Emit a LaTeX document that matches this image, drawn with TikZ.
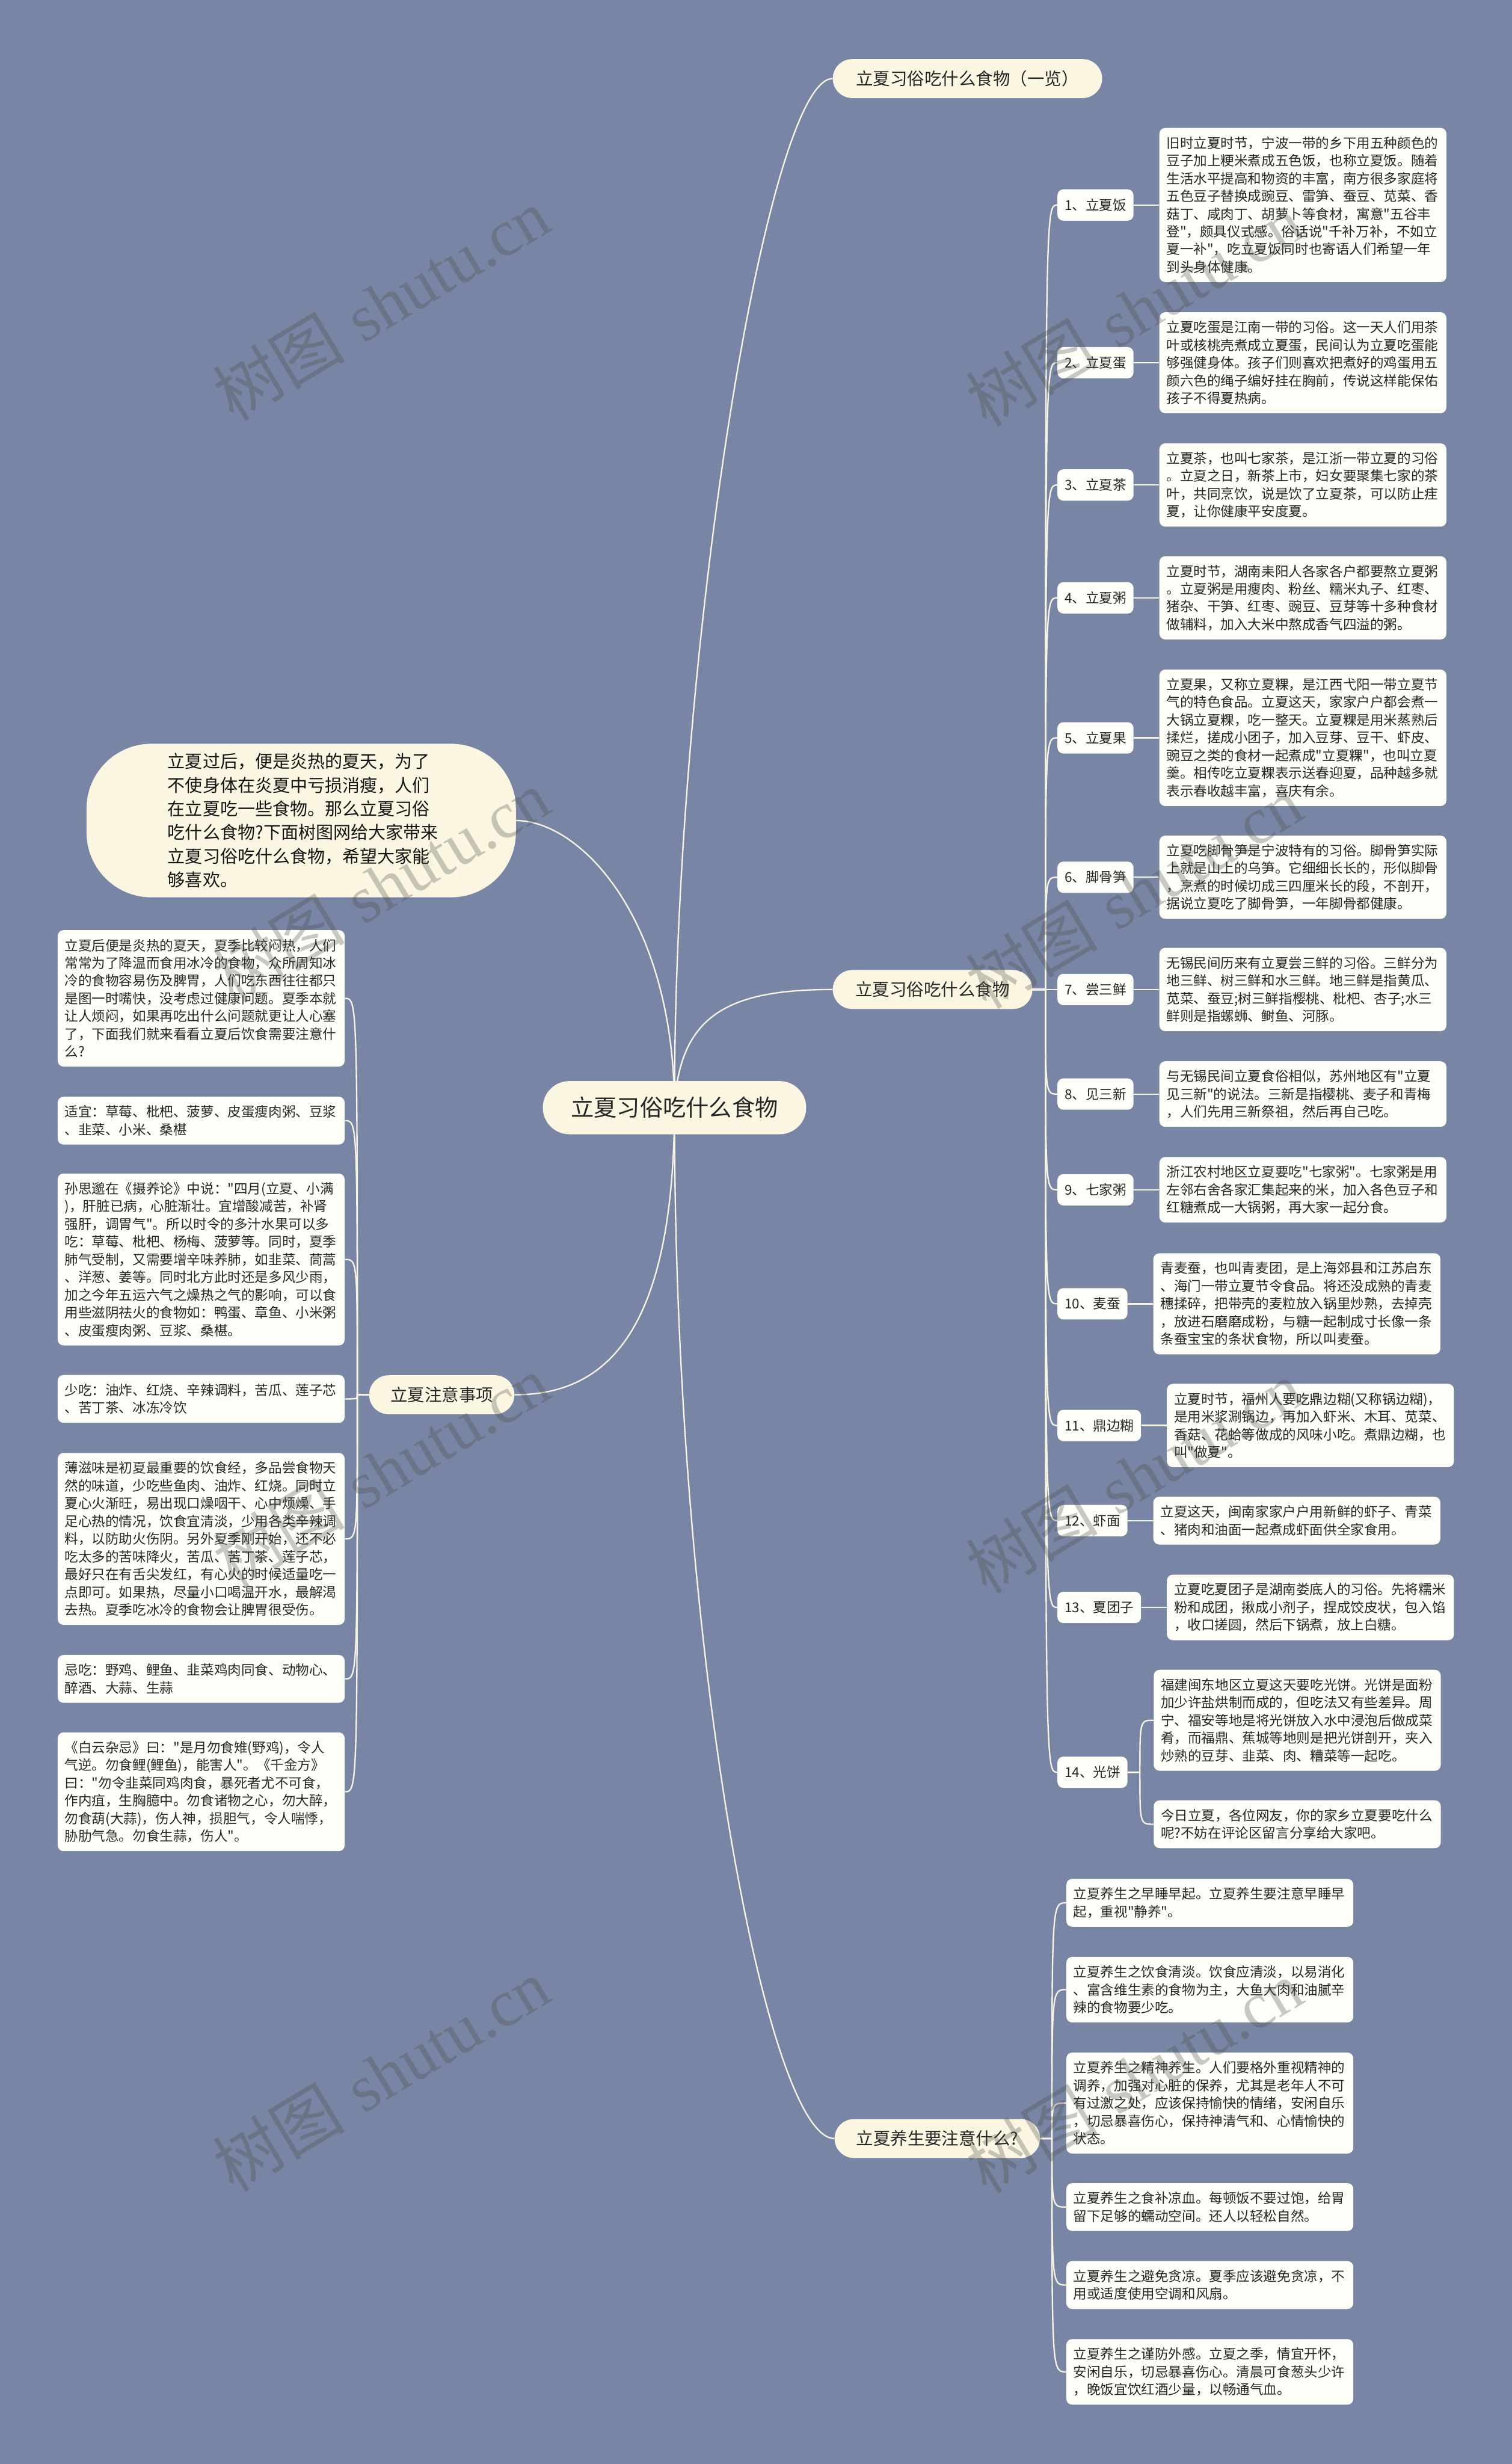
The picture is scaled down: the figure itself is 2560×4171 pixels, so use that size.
\documentclass[tikz,border=0pt]{standalone}
\usepackage{fontspec}
\newfontfamily\cjk{Noto Sans CJK SC}
\newfontfamily\wmserif{Liberation Serif}
\usetikzlibrary{calc}
\definecolor{bgc}{RGB}{120,133,164}
\definecolor{cream}{RGB}{250,246,226}
\definecolor{leaffill}{RGB}{254,254,248}
\definecolor{linec}{RGB}{246,243,226}
\definecolor{txt}{RGB}{38,38,38}
\definecolor{wm}{RGB}{78,78,70}
\pgfdeclarelayer{back}\pgfdeclarelayer{lines}\pgfsetlayers{back,lines,main}
\newcommand\mmleaf{\cjk\fontsize{11.5pt}{15pt}\selectfont}
\newcommand\mmbranch{\cjk\fontsize{14.5pt}{17pt}\selectfont}
\newcommand\mmroot{\cjk\fontsize{19.5pt}{23pt}\selectfont}
\newcommand\mmintro{\cjk\fontsize{14.8pt}{20pt}\selectfont}
\newcommand\mmwm{\cjk\fontsize{56pt}{60pt}\selectfont}
\begin{document}
\begin{tikzpicture}[x=0.5pt,y=-0.5pt,
  conn/.style={draw=linec, line width=1.2pt},
  leaf/.style={fill=leaffill, rounded corners=5pt, text width=231pt, align=left,
    inner xsep=6pt, inner ysep=2pt, font=\mmleaf, text=txt, anchor=west,
    minimum height={#1*15pt+10.5pt}},
  lbl/.style={fill=leaffill, rounded corners=5pt, inner xsep=6pt, inner ysep=0pt,
    minimum height=26.5pt, font=\mmleaf, text=txt, anchor=west},
  branch/.style={fill=cream, rounded corners=16.5pt, inner sep=0pt,
    minimum height=33pt, font=\mmbranch, text=txt},
  rootnode/.style={fill=cream, rounded corners=22.5pt, inner sep=0pt,
    minimum width=223pt, minimum height=45pt, font=\mmroot, text=txt},
  intro/.style={fill=cream, rounded corners=55pt, minimum width=363.5pt,
    minimum height=130pt, text width=226pt, align=left, font=\mmintro, text=black!92},
  wmk/.style={rotate=31, font=\mmwm, text=wm, text opacity=0.3, inner sep=0pt}
]
\useasboundingbox (0,0) rectangle (2560,4171);
\begin{pgfonlayer}{back}
\fill[bgc] (0,0) rectangle (2560,4171);
\end{pgfonlayer}

% root and branches
\node[rootnode] (root) at (1142,1875) {立夏习俗吃什么食物};
\node[branch, minimum width=228pt] (A) at (1638,133) {立夏习俗吃什么食物（一览）};
\node[branch, minimum width=169pt] (B) at (1579,1675) {立夏习俗吃什么食物};
\node[branch, minimum width=174pt] (C) at (1587,3620) {立夏养生要注意什么?};
\node[branch, minimum width=123pt] (D) at (748,2361) {立夏注意事项};
\node[intro] (intro) at (510,1389) {立夏过后，便是炎热的夏天，为了\\不使身体在炎夏中亏损消瘦，人们\\在立夏吃一些食物。那么立夏习俗\\吃什么食物?下面树图网给大家带来\\立夏习俗吃什么食物，希望大家能\\够喜欢。};

% B labels
\node[lbl] (l1) at (1790,347) {1、立夏饭};
\node[lbl] (l2) at (1790,614) {2、立夏蛋};
\node[lbl] (l3) at (1790,821) {3、立夏茶};
\node[lbl] (l4) at (1790,1012) {4、立夏粥};
\node[lbl] (l5) at (1790,1249) {5、立夏果};
\node[lbl] (l6) at (1790,1485) {6、脚骨笋};
\node[lbl] (l7) at (1790,1675) {7、尝三鲜};
\node[lbl] (l8) at (1790,1852) {8、见三新};
\node[lbl] (l9) at (1790,2014) {9、七家粥};
\node[lbl] (l10) at (1790,2207) {10、麦蚕};
\node[lbl] (l11) at (1790,2413) {11、鼎边糊};
\node[lbl] (l12) at (1790,2574) {12、虾面};
\node[lbl] (l13) at (1790,2721) {13、夏团子};
\node[lbl] (l14) at (1790,3000) {14、光饼};

% B leaves
\node[leaf=8] (f1) at ($(l1.east)+(43,0)$) {旧时立夏时节，宁波一带的乡下用五种颜色的\\豆子加上粳米煮成五色饭，也称立夏饭。随着\\生活水平提高和物资的丰富，南方很多家庭将\\五色豆子替换成豌豆、雷笋、蚕豆、苋菜、香\\菇丁、咸肉丁、胡萝卜等食材，寓意"五谷丰\\登"，颇具仪式感。俗话说"千补万补，不如立\\夏一补"，吃立夏饭同时也寄语人们希望一年\\到头身体健康。};
\node[leaf=5] (f2) at ($(l2.east)+(43,0)$) {立夏吃蛋是江南一带的习俗。这一天人们用茶\\叶或核桃壳煮成立夏蛋，民间认为立夏吃蛋能\\够强健身体。孩子们则喜欢把煮好的鸡蛋用五\\颜六色的绳子编好挂在胸前，传说这样能保佑\\孩子不得夏热病。};
\node[leaf=4] (f3) at ($(l3.east)+(43,0)$) {立夏茶，也叫七家茶，是江浙一带立夏的习俗\\。立夏之日，新茶上市，妇女要聚集七家的茶\\叶，共同烹饮，说是饮了立夏茶，可以防止疰\\夏，让你健康平安度夏。};
\node[leaf=4] (f4) at ($(l4.east)+(43,0)$) {立夏时节，湖南耒阳人各家各户都要熬立夏粥\\。立夏粥是用瘦肉、粉丝、糯米丸子、红枣、\\猪杂、干笋、红枣、豌豆、豆芽等十多种食材\\做辅料，加入大米中熬成香气四溢的粥。};
\node[leaf=7] (f5) at ($(l5.east)+(43,0)$) {立夏果，又称立夏粿，是江西弋阳一带立夏节\\气的特色食品。立夏这天，家家户户都会煮一\\大锅立夏粿，吃一整天。立夏粿是用米蒸熟后\\揉烂，搓成小团子，加入豆芽、豆干、虾皮、\\豌豆之类的食材一起煮成"立夏粿"，也叫立夏\\羹。相传吃立夏粿表示送春迎夏，品种越多就\\表示春收越丰富，喜庆有余。};
\node[leaf=4] (f6) at ($(l6.east)+(43,0)$) {立夏吃脚骨笋是宁波特有的习俗。脚骨笋实际\\上就是山上的乌笋。它细细长长的，形似脚骨\\，烹煮的时候切成三四厘米长的段，不剖开，\\据说立夏吃了脚骨笋，一年脚骨都健康。};
\node[leaf=4] (f7) at ($(l7.east)+(43,0)$) {无锡民间历来有立夏尝三鲜的习俗。三鲜分为\\地三鲜、树三鲜和水三鲜。地三鲜是指黄瓜、\\苋菜、蚕豆;树三鲜指樱桃、枇杷、杏子;水三\\鲜则是指螺蛳、鲥鱼、河豚。};
\node[leaf=3] (f8) at ($(l8.east)+(43,0)$) {与无锡民间立夏食俗相似，苏州地区有"立夏\\见三新"的说法。三新是指樱桃、麦子和青梅\\，人们先用三新祭祖，然后再自己吃。};
\node[leaf=3] (f9) at ($(l9.east)+(43,0)$) {浙江农村地区立夏要吃"七家粥"。七家粥是用\\左邻右舍各家汇集起来的米，加入各色豆子和\\红糖煮成一大锅粥，再大家一起分食。};
\node[leaf=5] (f10) at ($(l10.east)+(43,0)$) {青麦蚕，也叫青麦团，是上海郊县和江苏启东\\、海门一带立夏节令食品。将还没成熟的青麦\\穗揉碎，把带壳的麦粒放入锅里炒熟，去掉壳\\，放进石磨磨成粉，与糖一起制成寸长像一条\\条蚕宝宝的条状食物，所以叫麦蚕。};
\node[leaf=4] (f11) at ($(l11.east)+(43,0)$) {立夏时节，福州人要吃鼎边糊(又称锅边糊)，\\是用米浆涮锅边，再加入虾米、木耳、苋菜、\\香菇、花蛤等做成的风味小吃。煮鼎边糊，也\\叫"做夏"。};
\node[leaf=2] (f12) at ($(l12.east)+(43,0)$) {立夏这天，闽南家家户户用新鲜的虾子、青菜\\、猪肉和油面一起煮成虾面供全家食用。};
\node[leaf=3] (f13) at ($(l13.east)+(43,0)$) {立夏吃夏团子是湖南娄底人的习俗。先将糯米\\粉和成团，揪成小剂子，捏成饺皮状，包入馅\\，收口搓圆，然后下锅煮，放上白糖。};
\node[leaf=5] (f14a) at (1953,2912) {福建闽东地区立夏这天要吃光饼。光饼是面粉\\加少许盐烘制而成的，但吃法又有些差异。周\\宁、福安等地是将光饼放入水中浸泡后做成菜\\肴，而福鼎、蕉城等地则是把光饼剖开，夹入\\炒熟的豆芽、韭菜、肉、糟菜等一起吃。};
\node[leaf=2] (f14b) at (1953,3088) {今日立夏，各位网友，你的家乡立夏要吃什么\\呢?不妨在评论区留言分享给大家吧。};

% C leaves
\node[leaf=2] (c1) at (1805,3221) {立夏养生之早睡早起。立夏养生要注意早睡早\\起，重视"静养"。};
\node[leaf=3] (c2) at (1805,3368) {立夏养生之饮食清淡。饮食应清淡，以易消化\\、富含维生素的食物为主，大鱼大肉和油腻辛\\辣的食物要少吃。};
\node[leaf=5] (c3) at (1805,3560) {立夏养生之精神养生。人们要格外重视精神的\\调养，加强对心脏的保养，尤其是老年人不可\\有过激之处，应该保持愉快的情绪，安闲自乐\\，切忌暴喜伤心，保持神清气和、心情愉快的\\状态。};
\node[leaf=2] (c4) at (1805,3736) {立夏养生之食补凉血。每顿饭不要过饱，给胃\\留下足够的蠕动空间。还人以轻松自然。};
\node[leaf=2] (c5) at (1805,3868) {立夏养生之避免贪凉。夏季应该避免贪凉，不\\用或适度使用空调和风扇。};
\node[leaf=3] (c6) at (1805,4015) {立夏养生之谨防外感。立夏之季，情宜开怀，\\安闲自乐，切忌暴喜伤心。清晨可食葱头少许\\，晚饭宜饮红酒少量，以畅通气血。};

% D leaves
\node[leaf=7, anchor=east] (d1) at (584,1690) {立夏后便是炎热的夏天，夏季比较闷热，人们\\常常为了降温而食用冰冷的食物，众所周知冰\\冷的食物容易伤及脾胃，人们吃东西往往都只\\是图一时嘴快，没考虑过健康问题。夏季本就\\让人烦闷，如果再吃出什么问题就更让人心塞\\了，下面我们就来看看立夏后饮食需要注意什\\么?};
\node[leaf=2, anchor=east] (d2) at (584,1897) {适宜：草莓、枇杷、菠萝、皮蛋瘦肉粥、豆浆\\、韭菜、小米、桑椹};
\node[leaf=9, anchor=east] (d3) at (584,2132) {孙思邈在《摄养论》中说："四月(立夏、小满\\)，肝脏已病，心脏渐壮。宜增酸减苦，补肾\\强肝，调胃气"。所以时令的多汁水果可以多\\吃：草莓、枇杷、杨梅、菠萝等。同时，夏季\\肺气受制，又需要增辛味养肺，如韭菜、茼蒿\\、洋葱、姜等。同时北方此时还是多风少雨，\\加之今年五运六气之燥热之气的影响，可以食\\用些滋阴祛火的食物如：鸭蛋、章鱼、小米粥\\、皮蛋瘦肉粥、豆浆、桑椹。};
\node[leaf=2, anchor=east] (d4) at (584,2368) {少吃：油炸、红烧、辛辣调料，苦瓜、莲子芯\\、苦丁茶、冰冻冷饮};
\node[leaf=9, anchor=east] (d5) at (584,2605) {薄滋味是初夏最重要的饮食经，多品尝食物天\\然的味道，少吃些鱼肉、油炸、红烧。同时立\\夏心火渐旺，易出现口燥咽干、心中烦燥、手\\足心热的情况，饮食宜清淡，少用各类辛辣调\\料，以防助火伤阴。另外夏季刚开始，还不必\\吃太多的苦味降火，苦瓜、苦丁茶、莲子芯，\\最好只在有舌尖发红，有心火的时候适量吃一\\点即可。如果热，尽量小口喝温开水，最解渴\\去热。夏季吃冰冷的食物会让脾胃很受伤。};
\node[leaf=2, anchor=east] (d6) at (584,2842) {忌吃：野鸡、鲤鱼、韭菜鸡肉同食、动物心、\\醉酒、大蒜、生蒜};
\node[leaf=6, anchor=east] (d7) at (584,3033) {《白云杂忌》曰："是月勿食雉(野鸡)，令人\\气逆。勿食鲤(鲤鱼)，能害人"。《千金方》\\曰："勿令韭菜同鸡肉食，暴死者尤不可食，\\作内疽，生胸臆中。勿食诸物之心，勿大醉，\\勿食葫(大蒜)，伤人神，损胆气，令人喘悸，\\胁肋气急。勿食生蒜，伤人"。};

% spine coordinates
\coordinate (bs) at (1770,1675);
\coordinate (cs) at (1781,3620);
\coordinate (ds) at (605,2361);
\coordinate (s14) at (1930,3000);

\begin{pgfonlayer}{lines}
\draw[conn] (root.center) .. controls (1141,1100) and (1300,133) .. (A.west);
\draw[conn] (root.center) .. controls (1150,1720) and (1230,1675) .. (B.west);
\draw[conn] (root.center) .. controls (1141,2800) and (1300,3620) .. (C.west);
\draw[conn] (root.center) .. controls (1141,2250) and (1030,2361) .. (D.east);
\draw[conn] (intro.east) .. controls (980,1389) and (1141,1550) .. (root.center);
\foreach \k in {1,...,14}{
  \draw[conn] (B.east) -- (bs) .. controls (bs |- l\k.west) .. (l\k.west);
}
\foreach \k in {1,...,13}{
  \draw[conn] (l\k.east) -- (f\k.west);
}
\draw[conn] (l14.east) -- (s14) .. controls (s14 |- f14a.west) .. (f14a.west);
\draw[conn] (l14.east) -- (s14) .. controls (s14 |- f14b.west) .. (f14b.west);
\foreach \k in {1,...,6}{
  \draw[conn] (C.east) -- (cs) .. controls (cs |- c\k.west) .. (c\k.west);
}
\foreach \k in {1,...,7}{
  \draw[conn] (D.west) -- (ds) .. controls (ds |- d\k.east) .. (d\k.east);
}
\end{pgfonlayer}

% watermarks
\node[wmk] (wm1) at (645,515) {树图\hspace{0.3em}{\wmserif shutu.cn}};
\node[wmk] (wm2) at (1920,525) {树图\hspace{0.3em}{\wmserif shutu.cn}};
\node[wmk] (wm3) at (645,1500) {树图\hspace{0.3em}{\wmserif shutu.cn}};
\node[wmk] (wm4) at (1920,1510) {树图\hspace{0.3em}{\wmserif shutu.cn}};
\node[wmk] (wm5) at (645,2490) {树图\hspace{0.3em}{\wmserif shutu.cn}};
\node[wmk] (wm6) at (1920,2500) {树图\hspace{0.3em}{\wmserif shutu.cn}};
\node[wmk] (wm7) at (645,3512) {树图\hspace{0.3em}{\wmserif shutu.cn}};
\node[wmk] (wm8) at (1920,3515) {树图\hspace{0.3em}{\wmserif shutu.cn}};
\end{tikzpicture}
\end{document}
